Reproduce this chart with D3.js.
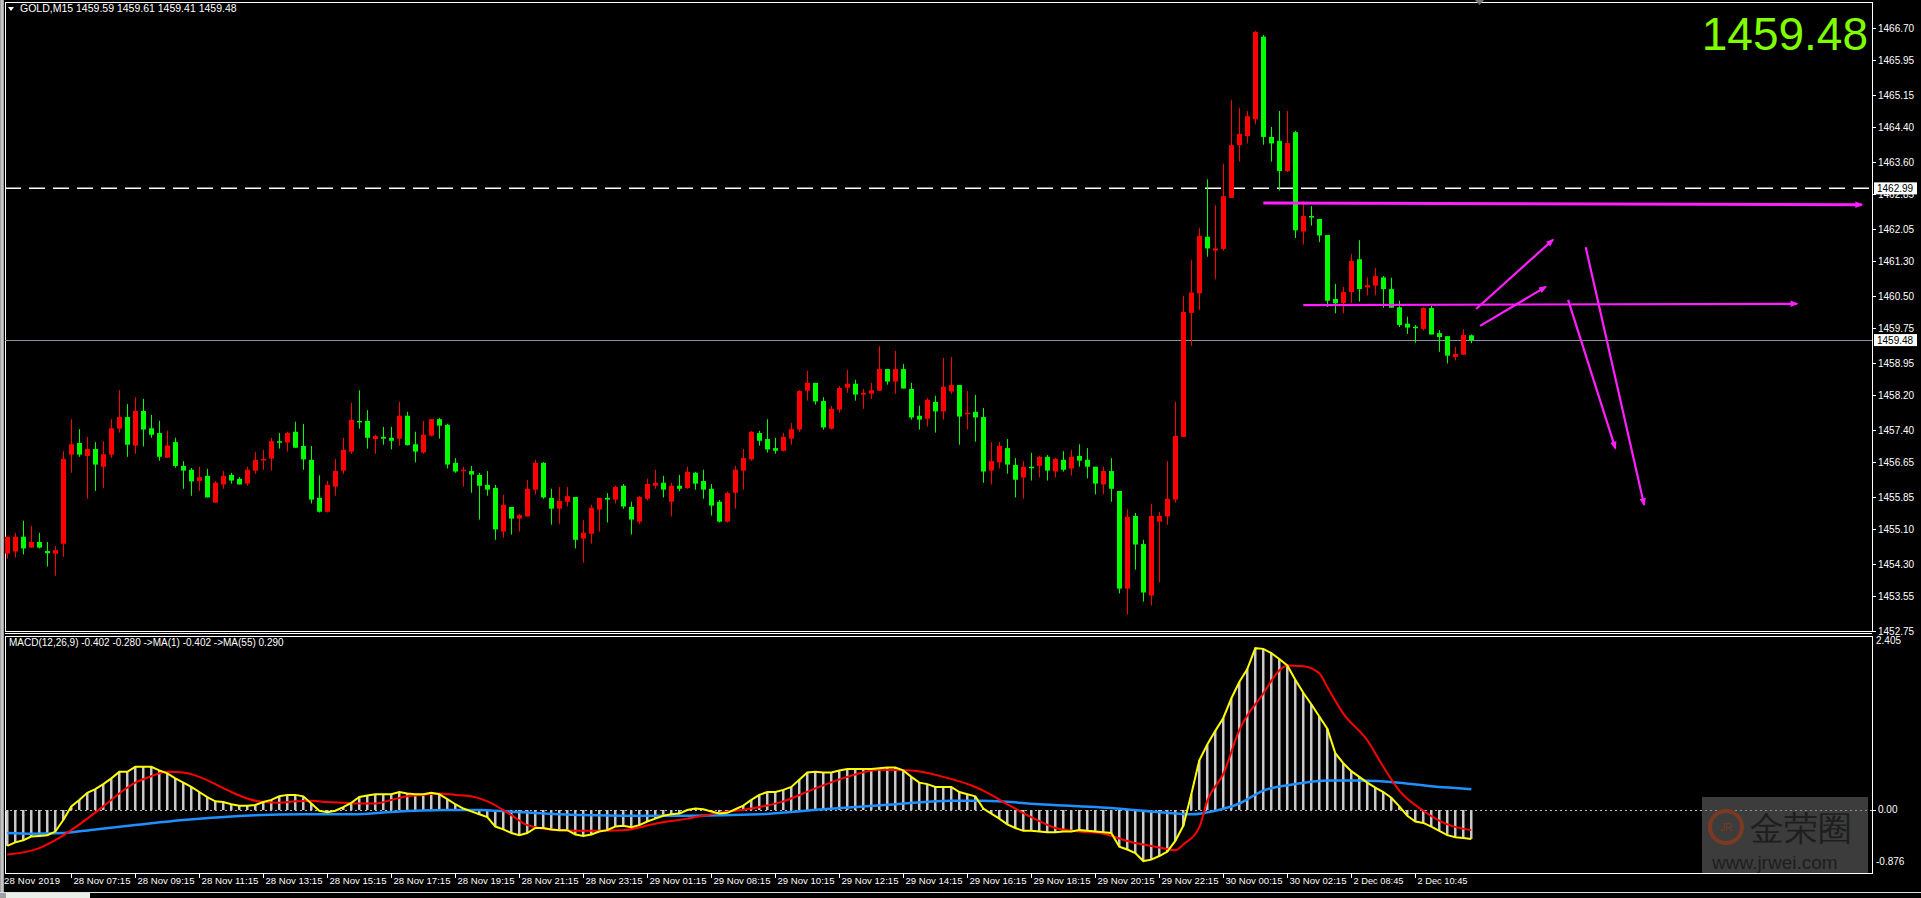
<!DOCTYPE html>
<html>
<head>
<meta charset="utf-8">
<script src="https://cdn.jsdelivr.net/npm/d3@7"></script>
<style>
  html, body { margin: 0; padding: 0; background: #000; overflow: hidden; }
  text { font-family: "Liberation Sans", "DejaVu Sans", sans-serif; }
</style>
</head>
<body>
<div id="chart"></div>
<script>
// GOLD M15 bars, oldest first
var opens = [1454.54,1454.59,1454.93,1454.68,1454.81,1454.60,1454.54,1454.77,1456.83,1457.10,1456.80,1456.96,1456.55,1456.83,1457.43,1457.70,1457.04,1457.84,1457.44,1457.33,1456.76,1457.12,1456.57,1456.48,1456.22,1456.34,1455.72,1456.14,1456.36,1456.27,1456.16,1456.46,1456.71,1456.74,1457.14,1457.11,1457.36,1457.03,1456.71,1455.83,1455.51,1456.09,1456.46,1456.90,1457.61,1457.61,1457.19,1457.24,1457.22,1457.20,1457.73,1457.07,1456.88,1457.27,1457.65,1457.52,1456.64,1456.46,1456.45,1456.36,1456.13,1456.06,1455.05,1455.62,1455.35,1455.40,1456.02,1456.64,1455.83,1455.58,1455.74,1455.85,1454.89,1455.00,1455.56,1455.83,1455.79,1456.11,1455.62,1455.28,1455.81,1456.11,1456.18,1455.74,1456.11,1456.06,1456.41,1456.22,1456.04,1455.74,1455.28,1455.95,1456.46,1456.72,1457.33,1457.19,1456.98,1456.92,1457.20,1457.41,1458.31,1458.49,1458.07,1457.43,1457.87,1458.38,1458.47,1458.22,1458.24,1458.31,1458.81,1458.52,1458.81,1458.35,1457.73,1457.66,1458.05,1457.83,1458.29,1458.44,1457.78,1457.82,1457.70,1456.46,1456.65,1456.98,1456.59,1456.30,1456.55,1456.57,1456.78,1456.44,1456.71,1456.51,1456.80,1456.71,1456.55,1456.14,1456.45,1455.99,1453.73,1455.41,1454.76,1453.57,1455.28,1455.40,1455.79,1457.24,1460.11,1460.56,1461.87,1461.55,1461.59,1462.77,1463.99,1464.20,1464.59,1466.50,1464.18,1464.09,1463.39,1464.29,1461.99,1462.35,1462.28,1461.91,1460.43,1460.34,1460.59,1461.35,1460.70,1460.74,1460.93,1460.66,1460.24,1459.86,1459.79,1459.74,1460.22,1459.64,1459.57,1459.09,1459.14,1459.59];
var highs = [1454.93,1455.02,1455.30,1455.18,1455.02,1454.81,1454.71,1456.91,1457.65,1457.42,1457.24,1457.12,1457.14,1457.65,1458.32,1458.00,1458.16,1458.12,1457.75,1457.61,1457.38,1457.22,1456.68,1456.52,1456.55,1456.50,1456.22,1456.45,1456.41,1456.31,1456.55,1456.89,1456.94,1457.22,1457.33,1457.36,1457.59,1457.54,1457.03,1456.35,1456.22,1456.73,1457.22,1458.03,1458.32,1457.86,1457.29,1457.47,1457.47,1458.05,1457.82,1457.36,1457.61,1457.65,1457.68,1457.54,1456.75,1456.55,1456.57,1456.41,1456.45,1456.13,1455.90,1455.62,1455.46,1456.24,1456.71,1456.66,1456.04,1456.08,1456.08,1455.85,1455.32,1455.67,1455.83,1455.94,1456.11,1456.15,1455.74,1455.87,1456.27,1456.48,1456.34,1456.18,1456.36,1456.55,1456.43,1456.48,1456.15,1455.78,1455.97,1456.57,1456.96,1457.38,1457.38,1457.65,1457.22,1457.33,1457.56,1458.32,1458.77,1458.49,1458.16,1457.96,1458.42,1458.79,1458.56,1458.35,1458.49,1459.34,1458.81,1459.23,1458.93,1458.49,1457.96,1458.14,1458.19,1459.07,1459.09,1458.44,1458.30,1458.21,1457.91,1457.12,1457.12,1457.19,1456.75,1456.68,1456.87,1456.80,1456.82,1456.75,1456.91,1456.94,1457.07,1456.98,1456.55,1456.55,1456.75,1455.99,1455.57,1455.48,1454.86,1455.69,1455.50,1456.68,1458.05,1460.50,1461.33,1462.07,1463.20,1462.60,1463.56,1465.03,1464.85,1464.78,1466.63,1466.54,1464.41,1464.78,1464.78,1464.32,1462.70,1462.58,1462.28,1461.91,1460.78,1460.71,1461.47,1461.79,1460.93,1461.15,1460.96,1460.92,1460.39,1460.02,1459.83,1460.24,1460.27,1459.71,1459.57,1459.32,1459.73,1459.61];
var lows = [1454.42,1454.45,1454.52,1454.68,1454.66,1454.24,1454.03,1454.47,1456.41,1456.78,1455.81,1455.99,1456.06,1456.76,1457.34,1456.78,1456.85,1457.02,1457.22,1456.69,1456.76,1456.53,1456.04,1455.88,1455.99,1455.84,1455.72,1456.04,1456.16,1456.14,1456.11,1456.39,1456.48,1456.46,1456.97,1456.90,1456.99,1456.48,1455.70,1455.49,1455.49,1455.88,1456.39,1456.85,1457.43,1456.97,1456.85,1457.06,1456.95,1457.04,1457.04,1456.65,1456.85,1457.25,1457.20,1456.51,1456.41,1456.09,1455.95,1455.33,1455.88,1454.86,1454.91,1454.98,1455.05,1455.40,1455.91,1455.81,1455.21,1455.23,1455.63,1454.66,1454.33,1454.77,1455.05,1455.26,1455.70,1455.58,1454.98,1455.23,1455.77,1456.04,1455.84,1455.40,1455.98,1456.04,1456.02,1455.81,1455.42,1455.26,1455.26,1455.58,1456.02,1456.69,1457.04,1456.88,1456.85,1456.90,1457.06,1457.36,1458.08,1457.99,1457.41,1457.41,1457.80,1458.26,1458.08,1457.89,1458.12,1458.31,1458.45,1458.24,1458.36,1457.64,1457.41,1457.48,1457.34,1457.64,1458.24,1457.06,1457.41,1457.13,1456.18,1456.14,1456.51,1456.39,1455.84,1455.81,1456.23,1456.30,1456.23,1456.30,1456.44,1456.35,1456.55,1456.28,1455.91,1455.91,1455.74,1453.62,1453.13,1454.17,1453.43,1453.34,1453.87,1455.21,1455.72,1457.24,1459.35,1460.18,1461.41,1460.89,1461.55,1462.77,1463.61,1464.03,1464.47,1464.00,1463.61,1462.94,1463.37,1461.84,1461.69,1462.13,1461.75,1460.25,1460.10,1460.10,1460.34,1460.37,1460.51,1460.52,1460.23,1460.23,1459.78,1459.62,1459.42,1459.70,1459.61,1459.21,1458.94,1459.01,1459.14,1459.41];
var closes = [1454.93,1454.93,1454.66,1454.81,1454.68,1454.55,1454.62,1456.73,1457.07,1456.83,1456.96,1456.60,1456.84,1457.44,1457.70,1457.06,1457.84,1457.41,1457.29,1456.78,1457.04,1456.57,1456.46,1456.21,1456.31,1455.84,1456.18,1456.34,1456.23,1456.14,1456.48,1456.71,1456.73,1457.14,1457.11,1457.33,1456.99,1456.72,1455.79,1455.51,1456.13,1456.45,1456.94,1457.63,1457.59,1457.22,1457.26,1457.20,1457.15,1457.73,1457.05,1456.90,1457.29,1457.65,1457.50,1456.60,1456.44,1456.48,1456.37,1456.11,1456.02,1455.10,1455.67,1455.35,1455.43,1456.04,1456.64,1455.84,1455.58,1455.76,1455.87,1454.86,1455.02,1455.60,1455.83,1455.79,1456.08,1455.63,1455.33,1455.85,1456.15,1456.18,1456.02,1456.11,1456.04,1456.43,1456.16,1456.02,1455.65,1455.28,1455.94,1456.48,1456.75,1457.36,1457.15,1456.95,1456.92,1457.24,1457.42,1458.30,1458.49,1458.06,1457.46,1457.89,1458.37,1458.47,1458.22,1458.26,1458.32,1458.81,1458.52,1458.81,1458.36,1457.69,1457.64,1458.10,1457.83,1458.40,1458.44,1457.71,1457.80,1457.69,1456.44,1456.68,1457.03,1456.60,1456.25,1456.55,1456.53,1456.78,1456.46,1456.73,1456.48,1456.78,1456.69,1456.55,1456.16,1456.45,1456.04,1453.73,1455.39,1454.75,1453.64,1455.41,1455.41,1455.81,1457.26,1460.13,1460.58,1461.89,1461.60,1461.60,1462.81,1463.99,1464.25,1464.66,1466.61,1464.18,1464.03,1463.39,1464.04,1462.02,1462.35,1462.32,1461.90,1460.39,1460.33,1460.59,1461.31,1460.66,1460.75,1460.96,1460.66,1460.23,1459.83,1459.77,1459.77,1460.22,1459.61,1459.55,1459.12,1459.16,1459.60,1459.48];

// MACD(12,26,9) main line, one value per bar (also drawn as histogram)
var macd = [-0.50,-0.45,-0.42,-0.37,-0.36,-0.35,-0.30,-0.14,0.05,0.14,0.24,0.29,0.36,0.44,0.53,0.53,0.60,0.60,0.60,0.55,0.51,0.44,0.38,0.32,0.25,0.18,0.12,0.11,0.08,0.06,0.06,0.07,0.11,0.14,0.19,0.21,0.21,0.19,0.09,-0.01,-0.03,-0.01,0.04,0.10,0.18,0.20,0.22,0.22,0.22,0.25,0.23,0.22,0.22,0.24,0.22,0.15,0.08,0.02,-0.02,-0.06,-0.10,-0.23,
  -0.27,-0.32,-0.35,-0.32,-0.25,-0.25,-0.27,-0.28,-0.28,-0.34,-0.36,-0.34,-0.30,-0.28,-0.23,-0.22,-0.24,-0.21,-0.16,-0.12,-0.08,-0.06,-0.05,0.00,0.02,0.01,-0.02,-0.05,-0.04,0.01,0.06,0.14,0.21,0.25,0.25,0.28,0.32,0.42,0.52,0.53,0.52,0.52,0.55,0.57,0.57,0.57,0.57,0.58,0.59,0.59,0.55,0.46,0.38,0.36,0.32,0.32,0.32,0.25,0.22,0.19,0.02,
  -0.05,-0.12,-0.20,-0.25,-0.29,-0.29,-0.30,-0.31,-0.31,-0.30,-0.30,-0.28,-0.29,-0.30,-0.31,-0.32,-0.51,-0.55,-0.60,-0.71,-0.69,-0.64,-0.58,-0.43,-0.22,0.22,0.69,0.91,1.10,1.28,1.55,1.78,1.96,2.25,2.24,2.18,2.10,2.01,1.81,1.63,1.47,1.30,1.13,0.79,0.65,0.54,0.46,0.38,0.31,0.25,0.17,0.05,-0.08,-0.16,-0.18,-0.23,-0.29,-0.35,-0.38,-0.39,-0.402];
// signal line (red) read at bar indices
var signalIdx = [0,4,6,8,10,12,14,16,18,20,22,24,26,28,30,32,34,36,38,40,42,44,46,48,50,52,54,56,58,60,63,65,69,73,77,81,85,89,93,97,101,105,109,113,117,121,122,125,128,131,134,137,140,144,146,147,149,150,152,154,157,159,160,162,164,165,167,170,172,174,177,180,183];
var signalVal = [-0.62,-0.53,-0.42,-0.28,-0.12,0.05,0.23,0.38,0.47,0.53,0.52,0.46,0.36,0.25,0.16,0.11,0.10,0.12,0.13,0.11,0.10,0.09,0.09,0.14,0.19,0.21,0.23,0.21,0.19,0.12,-0.07,-0.21,-0.28,-0.29,-0.28,-0.19,-0.12,-0.04,0.02,0.12,0.30,0.46,0.56,0.55,0.46,0.32,0.27,0.08,-0.10,-0.25,-0.30,-0.33,-0.43,-0.52,-0.56,-0.48,-0.24,0.13,0.50,1.11,1.62,1.94,2.01,2.00,1.90,1.71,1.34,0.97,0.60,0.27,-0.01,-0.20,-0.28];
// MA(55) of MACD (blue) read at bar indices
var maIdx = [0,3,7,11,16,22,28,37,43,49,55,59,61,69,77,85,94,102,111,118,122,129,136,144,148,151,154,157,161,165,169,174,178,183];
var maVal = [-0.32,-0.33,-0.32,-0.27,-0.21,-0.14,-0.09,-0.06,-0.06,-0.02,0.00,0.00,-0.01,-0.06,-0.08,-0.08,-0.06,0.01,0.08,0.13,0.13,0.08,0.04,-0.03,-0.06,-0.01,0.09,0.27,0.36,0.41,0.41,0.38,0.33,0.29];

var priceTicks = [1466.70,1465.95,1465.15,1464.40,1463.60,1462.85,1462.05,1461.30,1460.50,1459.75,1458.95,1458.20,1457.40,1456.65,1455.85,1455.10,1454.30,1453.55,1452.75];
var timeLabels = ["28 Nov 07:15","28 Nov 09:15","28 Nov 11:15","28 Nov 13:15","28 Nov 15:15","28 Nov 17:15","28 Nov 19:15","28 Nov 21:15","28 Nov 23:15","29 Nov 01:15","29 Nov 08:15","29 Nov 10:15","29 Nov 12:15","29 Nov 14:15","29 Nov 16:15","29 Nov 18:15","29 Nov 20:15","29 Nov 22:15","30 Nov 00:15","30 Nov 02:15","2 Dec 08:45","2 Dec 10:45"];
var levelLine = 1462.99;
var bidLine = 1459.48;
// hand drawn arrows: [barFrom, priceFrom, barTo, priceTo]
var drawings = [
  [157, 1462.65, 231.8, 1462.61],
  [162, 1460.29, 223.7, 1460.32],
  [183.6, 1460.20, 193.2, 1461.80],
  [184.1, 1459.81, 192.3, 1460.71],
  [195.1, 1460.41, 201.0, 1456.98],
  [197.3, 1461.63, 204.6, 1455.67]
];

var W = 1921, H = 898;
var paneR = 1872;
var svg = d3.select("#chart").append("svg").attr("width", W).attr("height", H);
svg.append("rect").attr("width", W).attr("height", H).attr("fill", "#000");

var defs = svg.append("defs");
defs.append("marker").attr("id", "arr").attr("viewBox", "0 0 10 10")
  .attr("refX", 8).attr("refY", 5).attr("markerWidth", 12).attr("markerHeight", 8)
  .attr("markerUnits", "userSpaceOnUse").attr("orient", "auto")
  .append("path").attr("d", "M0,1 L10,5 L0,9 z").attr("fill", "#ff1fff");
defs.append("clipPath").attr("id", "mainClip").append("rect").attr("x", 5).attr("y", 3).attr("width", paneR - 5).attr("height", 628);
defs.append("clipPath").attr("id", "macdClip").append("rect").attr("x", 5).attr("y", 637).attr("width", paneR - 5).attr("height", 236);

var x = d3.scaleLinear().domain([0, 183]).range([7.3, 7.3 + 183 * 8]);
var y = d3.scaleLinear().domain([1452.75, 1466.70]).range([631, 28]);
var ym = d3.scaleLinear().domain([-0.876, 2.405]).range([873, 637]);

// window edges
svg.append("rect").attr("x", 0).attr("y", 0).attr("width", 4).attr("height", H).attr("fill", "#a0a0a0");
svg.append("line").attr("x1", 2).attr("x2", 2).attr("y1", 0).attr("y2", H).attr("stroke", "#e8e8e8");

// pane frames
svg.append("rect").attr("x", 5.5).attr("y", 2.5).attr("width", paneR - 5).attr("height", 629).attr("fill", "none").attr("stroke", "#fff");
svg.append("rect").attr("x", 5.5).attr("y", 636.5).attr("width", paneR - 5).attr("height", 237).attr("fill", "none").attr("stroke", "#fff");
svg.append("line").attr("x1", 5).attr("x2", paneR).attr("y1", 633.5).attr("y2", 633.5).attr("stroke", "#fff");

// header
svg.append("path").attr("d", "M8,7 L14,7 L11,11 z").attr("fill", "#fff");
svg.append("text").attr("x", 20).attr("y", 12).attr("fill", "#fff").attr("font-size", 10.5).text("GOLD,M15  1459.59 1459.61 1459.41 1459.48");
svg.append("path").attr("d", "M1475,0 L1484,0 L1479.5,5 z").attr("fill", "#777");

var main = svg.append("g").attr("clip-path", "url(#mainClip)");

// level lines
main.append("line").attr("x1", 5).attr("x2", paneR).attr("y1", y(levelLine)).attr("y2", y(levelLine))
  .attr("stroke", "#fff").attr("stroke-width", 1.5).attr("stroke-dasharray", "16,8");
main.append("line").attr("x1", 5).attr("x2", paneR).attr("y1", Math.round(y(bidLine)) + 0.5).attr("y2", Math.round(y(bidLine)) + 0.5)
  .attr("stroke", "#8c95a0").attr("stroke-width", 1);

// candles
var bars = d3.range(opens.length).map(function(i) {
  return {i: i, o: opens[i], h: highs[i], l: lows[i], c: closes[i]};
});
var cg = main.append("g").selectAll("g").data(bars).join("g");
cg.append("line")
  .attr("x1", function(d) { return Math.round(x(d.i)) + 0.5; })
  .attr("x2", function(d) { return Math.round(x(d.i)) + 0.5; })
  .attr("y1", function(d) { return y(d.h); })
  .attr("y2", function(d) { return y(d.l); })
  .attr("stroke", function(d) { return d.c > d.o ? "#ff0000" : "#00ff00"; });
cg.append("rect")
  .attr("x", function(d) { return Math.round(x(d.i)) - 2; })
  .attr("width", 5)
  .attr("y", function(d) { return y(Math.max(d.o, d.c)); })
  .attr("height", function(d) { return Math.max(1.5, Math.abs(y(d.o) - y(d.c))); })
  .attr("fill", function(d) { return d.c > d.o ? "#ff0000" : "#00ff00"; });

// drawings
main.append("g").selectAll("line").data(drawings).join("line")
  .attr("x1", function(d) { return x(d[0]); })
  .attr("y1", function(d) { return y(d[1]); })
  .attr("x2", function(d) { return x(d[2]); })
  .attr("y2", function(d) { return y(d[3]); })
  .attr("stroke", "#ff1fff")
  .attr("stroke-width", function(d, i) { return i === 0 ? 3 : 2.2; })
  .attr("marker-end", "url(#arr)");

// big bid price
svg.append("text").attr("x", 1868).attr("y", 50).attr("text-anchor", "end")
  .attr("fill", "#7fff00").attr("font-size", 46).attr("font-family", "Roboto, 'Liberation Sans', sans-serif")
  .text(d3.format(".2f")(bidLine));

// price axis
var pa = svg.append("g").attr("font-size", 10).attr("fill", "#fff");
priceTicks.forEach(function(p) {
  pa.append("line").attr("x1", paneR).attr("x2", paneR + 4).attr("y1", Math.round(y(p)) + 0.5).attr("y2", Math.round(y(p)) + 0.5).attr("stroke", "#fff");
  pa.append("text").attr("x", paneR + 6).attr("y", y(p)).attr("dy", "0.35em").attr("fill", "#fff").text(p.toFixed(2));
});
[levelLine, bidLine].forEach(function(p) {
  pa.append("rect").attr("x", paneR + 2).attr("y", y(p) - 6).attr("width", 43).attr("height", 12).attr("fill", "#fff");
  pa.append("text").attr("x", paneR + 5).attr("y", y(p)).attr("dy", "0.35em").attr("fill", "#000").text(p.toFixed(2));
});

// MACD pane
var mg = svg.append("g").attr("clip-path", "url(#macdClip)");
mg.append("line").attr("x1", 5).attr("x2", paneR).attr("y1", Math.round(ym(0)) + 0.5).attr("y2", Math.round(ym(0)) + 0.5)
  .attr("stroke", "#bbb").attr("stroke-dasharray", "2,3");
mg.append("g").selectAll("rect").data(macd).join("rect")
  .attr("x", function(d, i) { return Math.round(x(i)) - 1; })
  .attr("width", 2.5)
  .attr("y", function(d) { return Math.min(ym(d), ym(0)); })
  .attr("height", function(d) { return Math.abs(ym(d) - ym(0)); })
  .attr("fill", "#c8c8c8");
mg.append("path").datum(maIdx.map(function(k, j) { return [k, maVal[j]]; }))
  .attr("fill", "none").attr("stroke", "#1e90ff").attr("stroke-width", 2.5)
  .attr("d", d3.line().x(function(d) { return x(d[0]); }).y(function(d) { return ym(d[1]); }).curve(d3.curveMonotoneX));
mg.append("path").datum(signalIdx.map(function(k, j) { return [k, signalVal[j]]; }))
  .attr("fill", "none").attr("stroke", "#ff0000").attr("stroke-width", 2)
  .attr("d", d3.line().x(function(d) { return x(d[0]); }).y(function(d) { return ym(d[1]); }).curve(d3.curveMonotoneX));
mg.append("path").datum(macd)
  .attr("fill", "none").attr("stroke", "#ffff00").attr("stroke-width", 2)
  .attr("d", d3.line().x(function(d, i) { return x(i); }).y(function(d) { return ym(d); }));

svg.append("text").attr("x", 9).attr("y", 646).attr("fill", "#fff").attr("font-size", 10)
  .text("MACD(12,26,9) -0.402 -0.280  ->MA(1) -0.402  ->MA(55) 0.290");
var ma = svg.append("g").attr("font-size", 10).attr("fill", "#fff");
ma.append("text").attr("x", paneR + 4).attr("y", ym(2.405) + 7).attr("fill", "#fff").text("2.405");
ma.append("text").attr("x", paneR + 6).attr("y", ym(0)).attr("dy", "0.35em").attr("fill", "#fff").text("0.00");
ma.append("text").attr("x", paneR + 4).attr("y", ym(-0.876) - 8).attr("fill", "#fff").text("-0.876");
ma.append("line").attr("x1", paneR).attr("x2", paneR + 4).attr("y1", Math.round(ym(0)) + 0.5).attr("y2", Math.round(ym(0)) + 0.5).attr("stroke", "#fff");

// watermark
var wm = svg.append("g");
wm.append("rect").attr("x", 1702).attr("y", 797).attr("width", 166).attr("height", 76).attr("fill", "#6e6e6e").attr("opacity", 0.55);
wm.append("circle").attr("cx", 1726).attr("cy", 827).attr("r", 16).attr("fill", "none").attr("stroke", "#7a3a22").attr("stroke-width", 4);
wm.append("text").attr("x", 1726).attr("y", 831).attr("text-anchor", "middle").attr("font-size", 10).attr("fill", "#7a3a22").text("JR");
wm.append("text").attr("x", 1750).attr("y", 840).attr("font-size", 34).attr("fill", "#1e1e1e")
  .attr("font-family", "'Noto Sans CJK SC', sans-serif").text("金荣圈");
wm.append("text").attr("x", 1712).attr("y", 869).attr("font-size", 19).attr("fill", "#1e1e1e").text("www.jrwei.com");

// time axis
var ta = svg.append("g").attr("font-size", 9.5).attr("fill", "#fff");
ta.append("text").attr("x", 4).attr("y", 884).attr("fill", "#fff").attr("textLength", 56).text("28 Nov 2019");
timeLabels.forEach(function(t, k) {
  var tx = Math.round(x((k + 1) * 8)) + 0.5;
  ta.append("line").attr("x1", tx).attr("x2", tx).attr("y1", 874).attr("y2", 878).attr("stroke", "#fff");
  ta.append("text").attr("x", tx + 2).attr("y", 884).attr("fill", "#fff")
    .attr("textLength", t.length > 11 ? 57 : 50).attr("lengthAdjust", "spacingAndGlyphs").text(t);
});

// bottom tab strip
svg.append("line").attr("x1", 0).attr("x2", W).attr("y1", 892.5).attr("y2", 892.5).attr("stroke", "#ddd");
svg.append("rect").attr("x", 6).attr("y", 893).attr("width", 84).attr("height", 5).attr("fill", "#e8f0e8");
svg.append("rect").attr("x", 0).attr("y", 893).attr("width", 6).attr("height", 5).attr("fill", "#a0a0a0");
</script>
</body>
</html>
